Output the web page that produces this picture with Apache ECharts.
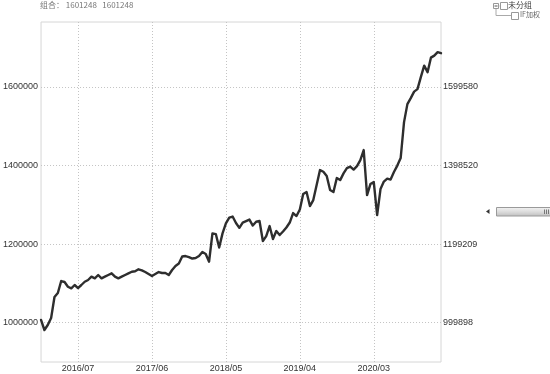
<!DOCTYPE html>
<html><head><meta charset="utf-8">
<script src="https://cdn.jsdelivr.net/npm/echarts@6/dist/echarts.min.js"></script>
<style>html,body{margin:0;padding:0;background:#fff}#c{width:550px;height:374px}</style>
</head><body><div id="c"></div>
<script>
// Half-month calendar categories from 2016/01/15 to 2021/01/01
const categories = [];
(function(){
  const pad = n => (n < 10 ? '0' + n : '' + n);
  for (let y = 2016; y <= 2021; y++) {
    for (let m = 1; m <= 12; m++) {
      for (const d of ['01', '15']) {
        const s = y + '/' + pad(m) + '/' + d;
        if (s >= '2016/01/15' && s <= '2021/01/01') categories.push(s);
      }
    }
  }
})();

const xTickDates = ['2016/07/01', '2017/06/01', '2018/05/01', '2019/04/01', '2020/03/01'];
const leftTicks = [1000000, 1200000, 1400000, 1600000];
const rightTickLabels = ['999898', '1199209', '1398520', '1599580'];

const netValue = [
  1006900, 981400, 994200, 1011950, 1065300, 1075500, 1106000, 1103500, 1091500, 1087500,
  1095900, 1088200, 1095900, 1104200, 1108600, 1117000, 1112900, 1121300, 1112900, 1117000,
  1121300, 1125600, 1117000, 1112900, 1117000, 1121300, 1125600, 1129700, 1130900, 1135800,
  1133200, 1128900, 1123800, 1118700, 1123800, 1128900, 1126400, 1126400, 1121300, 1134000,
  1144200, 1150500, 1168300, 1169600, 1167000, 1163200, 1164500, 1169600, 1179800, 1174700,
  1155100, 1227300, 1225500, 1191200, 1227300, 1252700, 1267500, 1270000, 1253500, 1241300,
  1254800, 1258600, 1262400, 1247100, 1256800, 1258600, 1207700, 1220400, 1245900, 1212800,
  1233200, 1223000, 1231900, 1242100, 1254800, 1278900, 1271300, 1287800, 1327200, 1332300,
  1296700, 1312000, 1350100, 1388300, 1383900, 1373000, 1337400, 1332300, 1367900, 1362800,
  1379900, 1393300, 1397200, 1389500, 1398400, 1413700, 1439100, 1324700, 1352700, 1357700,
  1273800, 1339900, 1359000, 1366600, 1364100, 1383200, 1399700, 1418800, 1510300, 1556100,
  1571300, 1587900, 1594200, 1624700, 1654000, 1637400, 1674300, 1679400, 1688300, 1685700
];

const titleText = '组合： 1601248   1601248';
const treeRoot = '未分组';
const treeChild = 'IF加权';

const chart = echarts.init(document.getElementById('c'), null, {renderer: 'canvas'});
const labelFont = {fontFamily: 'Liberation Sans', fontSize: 9, color: '#333'};
const gridLine = {color: '#c4c4c4', width: 1, type: [1, 2]};

chart.setOption({
  animation: false,
  backgroundColor: '#fff',
  grid: {left: 39.5, right: 109, top: 22, bottom: 12, show: true, borderColor: '#d6d6d6', borderWidth: 1},
  xAxis: {
    type: 'category', data: categories, boundaryGap: false,
    axisLine: {show: false}, axisTick: {show: false},
    axisLabel: Object.assign({
      interval: (i, v) => xTickDates.indexOf(v) >= 0,
      formatter: v => v.slice(0, 7), margin: 2
    }, labelFont),
    splitLine: {show: true, interval: (i, v) => xTickDates.indexOf(v) >= 0, lineStyle: gridLine}
  },
  yAxis: [{
    type: 'value', position: 'left', min: 900000, max: 1765000,
    axisLine: {show: false},
    axisTick: {show: false, customValues: leftTicks},
    axisLabel: Object.assign({customValues: leftTicks, margin: 3, formatter: v => String(v)}, labelFont),
    splitLine: {show: true, lineStyle: gridLine}
  }, {
    type: 'value', position: 'right', min: 900000, max: 1765000,
    axisLine: {show: false},
    axisTick: {show: false, customValues: leftTicks},
    axisLabel: Object.assign({customValues: leftTicks, margin: 2,
      formatter: v => { const k = leftTicks.indexOf(v); return k >= 0 ? rightTickLabels[k] : ''; }}, labelFont),
    splitLine: {show: false}
  }],
  series: [{
    type: 'line', data: netValue, showSymbol: false, symbol: 'none',
    lineStyle: {color: '#2e2e2e', width: 2.4, join: 'round', cap: 'round'}, z: 5
  }],
  graphic: [
    {type: 'text', left: 40, top: 1, style: {text: titleText, fontFamily: 'Noto Sans CJK SC', fontSize: 8, fill: '#777'}},
    // tree control
    {type: 'rect', shape: {x: 493.5, y: 3.5, width: 5, height: 5}, style: {fill: '#fff', stroke: '#999', lineWidth: 1}},
    {type: 'line', shape: {x1: 494.5, y1: 6, x2: 497.5, y2: 6}, style: {stroke: '#555', lineWidth: 1}},
    {type: 'line', shape: {x1: 498.5, y1: 6, x2: 500.5, y2: 6}, style: {stroke: '#aaa', lineWidth: 1, lineDash: [1, 1]}},
    {type: 'rect', shape: {x: 500.5, y: 2.5, width: 7, height: 7}, style: {fill: '#fff', stroke: '#999', lineWidth: 1}},
    {type: 'text', left: 508, top: 0.5, style: {text: treeRoot, fontFamily: 'Noto Sans CJK SC', fontSize: 8, fill: '#444'}},
    {type: 'polyline', shape: {points: [[496, 9], [496, 15.5], [511, 15.5]]}, style: {stroke: '#aaa', lineWidth: 1, fill: null}},
    {type: 'rect', shape: {x: 511.5, y: 12.5, width: 7, height: 7}, style: {fill: '#fff', stroke: '#999', lineWidth: 1}},
    {type: 'text', left: 520, top: 10.5, style: {text: treeChild, fontFamily: 'Noto Sans CJK SC', fontSize: 7, fill: '#666'}},
    // scrollbar
    {type: 'polygon', shape: {points: [[486, 211.5], [489.5, 209], [489.5, 214]]}, style: {fill: '#333'}},
    {type: 'rect', shape: {x: 496.5, y: 207.5, width: 60, height: 8.5}, style: {
      stroke: '#9a9a9a', lineWidth: 1,
      fill: new echarts.graphic.LinearGradient(0, 0, 0, 1, [{offset: 0, color: '#f4f4f4'}, {offset: 0.5, color: '#dcdcdc'}, {offset: 1, color: '#bdbdbd'}])
    }},
    {type: 'line', shape: {x1: 544.5, y1: 209.5, x2: 544.5, y2: 214}, style: {stroke: '#777'}},
    {type: 'line', shape: {x1: 546.5, y1: 209.5, x2: 546.5, y2: 214}, style: {stroke: '#777'}},
    {type: 'line', shape: {x1: 548.5, y1: 209.5, x2: 548.5, y2: 214}, style: {stroke: '#777'}}
  ]
});
</script>
</body></html>
